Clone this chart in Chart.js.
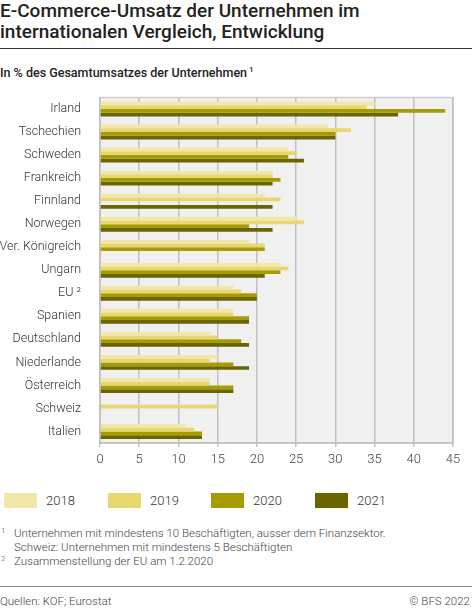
<!DOCTYPE html>
<html>
<head>
<meta charset="utf-8">
<script src="https://cdn.jsdelivr.net/npm/chart.js@4"></script>
<style>
    body { margin: 0; width: 472px; height: 609px; background: #fff; font-family: Roboto, sans-serif; color: #222; position: relative; overflow: hidden; }
    .title { position: absolute; left: 0; top: 0; font-size: 19px; font-weight: 500; line-height: 21px; color: #222; }
    .rule { position: absolute; left: 0; width: 472px; height: 1px; }
    .subtitle { position: absolute; left: 0; top: 65px; font-size: 12.5px; font-weight: 500; color: #222; }
    sup { font-size: 8px; vertical-align: 5px; }
    #chartBox { position: absolute; left: 0; top: 79px; width: 472px; height: 401px; }
    .legend { position: absolute; top: 493px; left: 0; font-size: 13px; color: #333; font-weight: 300; }
    .legend .item { position: absolute; white-space: nowrap; }
    .legend .box { position: absolute; top: 0; width: 33px; height: 15px; }
    .legend .lbl { position: absolute; top: 0; line-height: 16px; }
    .notes { position: absolute; left: 0; top: 526px; font-size: 11.5px; line-height: 14px; color: #444; font-weight: 300; }
    .notes div { position: relative; padding-left: 14px; }
    .notes .n { position: absolute; left: 1px; top: -2px; font-size: 8px; }
    .foot { position: absolute; top: 594px; font-size: 11.5px; color: #444; font-weight: 300; }
</style>
</head>
<body>
<div class="title">E-Commerce-Umsatz der Unternehmen im<br>internationalen Vergleich, Entwicklung</div>
<div class="rule" style="top:48px;background:#333;"></div>
<div class="subtitle">In % des Gesamtumsatzes der Unternehmen<sup> 1</sup></div>
<div id="chartBox"><canvas id="ecomChart"></canvas></div>
<div class="legend" id="legend"></div>
<div class="notes">
    <div><span class="n">1</span>Unternehmen mit mindestens 10 Beschäftigten, ausser dem Finanzsektor.</div>
    <div>Schweiz: Unternehmen mit mindestens 5 Beschäftigten</div>
    <div><span class="n">2</span>Zusammenstellung der EU am 1.2.2020</div>
</div>
<div class="rule" style="top:586px;background:#888;"></div>
<div class="foot" style="left:0;">Quellen: KOF; Eurostat</div>
<div class="foot" style="right:2px;">© BFS 2022</div>

<script>
const countries = ['Irland', 'Tschechien', 'Schweden', 'Frankreich', 'Finnland', 'Norwegen', 'Ver. Königreich',
    'Ungarn', 'EU 2', 'Spanien', 'Deutschland', 'Niederlande', 'Österreich', 'Schweiz', 'Italien'];
const years = ['2018', '2019', '2020', '2021'];
const values2018 = [35, 29, 24, 22, 21, 25, 19, 23, 17, 17, 14, 15, 14, null, 11];
const values2019 = [34, 32, 25, 22, 23, 26, 21, 24, 18, 17, 15, 14, 14, 15, 12];
const values2020 = [44, 30, 24, 23, null, 19, 21, 23, 20, 19, 18, 17, 17, null, 13];
const values2021 = [38, 30, 26, 22, 22, 22, null, 21, 20, 19, 19, 19, 17, null, 13];
const xTicks = [0, 5, 10, 15, 20, 25, 30, 35, 40, 45];

const colors = ['#f2e7a9', '#e8d66e', '#a69b00', '#6b6500'];
const series = [values2018, values2019, values2020, values2021];

// grey plot background with border
const plotBackground = {
    id: 'plotBackground',
    beforeDraw(chart) {
        const { ctx, chartArea: a } = chart;
        ctx.save();
        ctx.fillStyle = '#f0f0f0';
        ctx.fillRect(a.left, a.top, a.right - a.left, a.bottom - a.top);
        ctx.strokeStyle = '#cfcfcf';
        ctx.lineWidth = 1.5;
        ctx.strokeRect(a.left, a.top, a.right - a.left, a.bottom - a.top);
        ctx.restore();
    }
};

const ecomChart = new Chart(document.getElementById('ecomChart'), {
    type: 'bar',
    data: {
        labels: countries,
        datasets: years.map((y, i) => ({
            label: y,
            data: series[i],
            backgroundColor: colors[i],
            borderWidth: 0,
            categoryPercentage: 0.65,
            barPercentage: 1
        }))
    },
    options: {
        indexAxis: 'y',
        responsive: true,
        maintainAspectRatio: false,
        animation: false,
        layout: { padding: { top: 4, right: 19, left: 0, bottom: 0 } },
        plugins: {
            legend: { display: false },
            tooltip: { enabled: false }
        },
        scales: {
            x: {
                min: 0,
                max: 45,
                afterBuildTicks(axis) {
                    axis.ticks = xTicks.map(v => ({ value: v }));
                },
                afterFit(axis) { axis.height = 37; },
                grid: { color: '#c0c0c0', lineWidth: 1.5, tickLength: 4 },
                border: { color: '#c0c0c0', width: 1.5 },
                ticks: { color: '#444', font: { family: 'Roboto', size: 13, weight: 300 }, padding: 5 }
            },
            y: {
                afterFit(axis) { axis.width = 100; },
                grid: { display: false },
                border: { color: '#c0c0c0', width: 1.5 },
                ticks: {
                    color: '#333',
                    font: { family: 'Roboto', size: 12.5, weight: 300 },
                    padding: 11,
                    callback(value) {
                        const l = this.getLabelForValue(value);
                        return l === 'EU 2' ? 'EU ²' : l;
                    }
                }
            }
        }
    },
    plugins: [plotBackground]
});

// HTML legend
const legendEl = document.getElementById('legend');
const legendX = [4, 108, 211, 315];
years.forEach((y, i) => {
    const item = document.createElement('div');
    item.className = 'item';
    item.style.left = legendX[i] + 'px';
    item.innerHTML = `<span class="box" style="background:${colors[i]}"></span><span class="lbl" style="left:42px">${y}</span>`;
    legendEl.appendChild(item);
});
</script>
</body>
</html>
